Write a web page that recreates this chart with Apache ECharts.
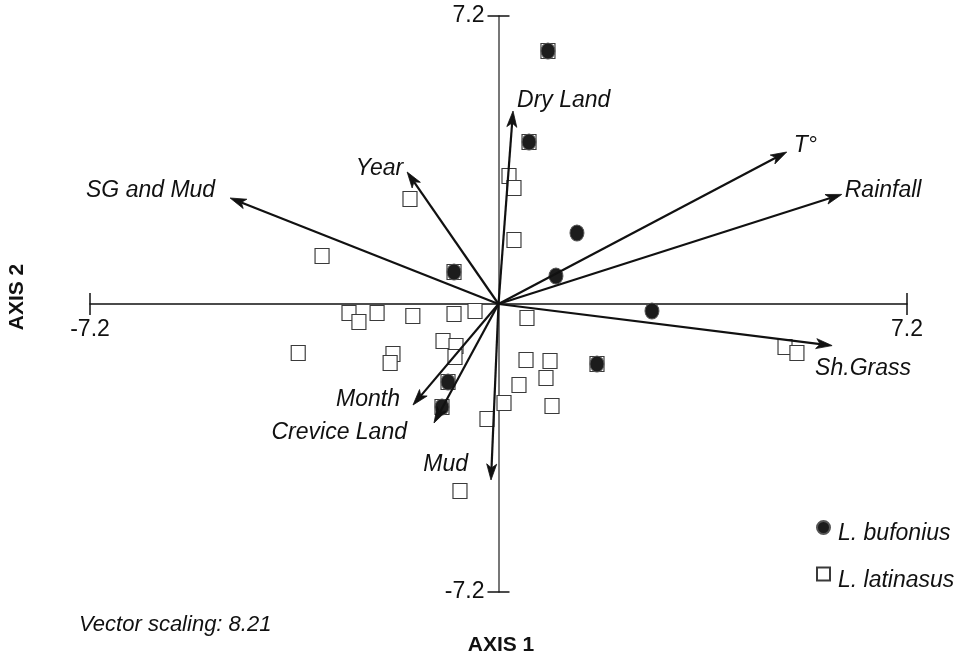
<!DOCTYPE html>
<html>
<head>
<meta charset="utf-8">
<script src="https://cdn.jsdelivr.net/npm/echarts@6/dist/echarts.min.js"></script>
<style>
html,body{margin:0;padding:0;background:#fff;}
#chart{width:961px;height:658px;}
</style>
</head>
<body>
<div id="chart"></div>
<script>
// ---- data ----
const AXIS_LIMIT = 7.2;
const axisTickLabels = ['-7.2', '7.2'];

const vectorNames = ['Dry Land', 'T°', 'Rainfall', 'Sh.Grass', 'SG and Mud', 'Year', 'Month', 'Crevice Land', 'Mud'];
const vectorX = [0.256, 5.08, 6.05, 5.88, -4.73, -1.61, -1.507, -1.137, -0.132];
const vectorY = [4.825, 3.8, 2.74, -1.04, 2.65, 3.3, -2.525, -2.975, -4.4];

const latinasusX = [-3.11, -1.56, 0.185, 0.273, 0.273, -2.635, -2.46, -2.14, -1.51, -0.784, -0.414, 0.502,
  -3.53, -0.978, -0.749, -0.767, -1.86, -1.91, 0.485, 0.908, 0.837, 0.361, 0.097, 0.943, -0.203, -0.679,
  5.05, 5.26, 0.872, 0.538, -0.784, 1.736, -0.89, -0.996];
const latinasusY = [1.2, 2.625, 3.2, 2.9, 1.6, -0.225, -0.45, -0.225, -0.3, -0.25, -0.175, -0.35,
  -1.225, -0.925, -1.05, -1.325, -1.25, -1.475, -1.4, -1.425, -1.85, -2.025, -2.475, -2.55, -2.875, -4.675,
  -1.075, -1.225, 6.325, 4.05, 0.8, -1.5, -1.95, -2.575];

const bufoniusX = [0.872, 0.538, -0.784, 1.736, -0.89, -0.996, 1.383, 1.013, 2.705];
const bufoniusY = [6.325, 4.05, 0.8, -1.5, -1.95, -2.575, 1.775, 0.7, -0.175];

// ---- layout / style (not data) ----
const FONT = '"Liberation Sans", Arial, Helvetica, sans-serif';
const labelLayout = {
  'Dry Land': [4, -10, 'left'],
  'T°': [7, -6, 'left'],
  'Rainfall': [3, -4, 'left'],
  'Sh.Grass': [-17, 23, 'left'],
  'SG and Mud': [-15, -7, 'right'],
  'Year': [-4, -3, 'right'],
  'Month': [-13, -5, 'right'],
  'Crevice Land': [-27, 10, 'right'],
  'Mud': [-23, -15, 'right']
};

const zip = (xs, ys) => xs.map((x, i) => [x, ys[i]]);
const vectorData = vectorNames.map((n, i) => [vectorX[i], vectorY[i], i]);
// [x, y, orientation(0 = horizontal axis end, 1 = vertical axis end), label index]
const tickData = [[-AXIS_LIMIT, 0, 0, 0], [AXIS_LIMIT, 0, 0, 1], [0, -AXIS_LIMIT, 1, 0], [0, AXIS_LIMIT, 1, 1]];

const chart = echarts.init(document.getElementById('chart'), null, {renderer: 'canvas'});

const option = {
  backgroundColor: '#fff',
  animation: false,
  grid: {left: 90, right: 54, top: 16, bottom: 66, containLabel: false},
  xAxis: {
    type: 'value', min: -AXIS_LIMIT, max: AXIS_LIMIT, interval: AXIS_LIMIT,
    splitLine: {show: false},
    axisTick: {show: false},
    axisLabel: {show: false},
    axisLine: {show: true, onZero: true, lineStyle: {color: '#111', width: 1.5}}
  },
  yAxis: {
    type: 'value', min: -AXIS_LIMIT, max: AXIS_LIMIT, interval: AXIS_LIMIT,
    splitLine: {show: false},
    axisTick: {show: false},
    axisLabel: {show: false},
    axisLine: {show: true, onZero: true, lineStyle: {color: '#555', width: 1.6}}
  },
  legend: {
    orient: 'vertical', left: 811, top: 515, itemWidth: 13, itemHeight: 13, itemGap: 21,
    data: [{name: 'L. bufonius', icon: 'circle'}, {name: 'L. latinasus', icon: 'rect'}],
    formatter: '{t|{name}}',
    textStyle: {
      fontSize: 23, fontFamily: FONT, fontStyle: 'italic', color: '#111',
      rich: {t: {fontSize: 23, fontFamily: FONT, fontStyle: 'italic', color: '#111', padding: [13, 0, 0, 3]}}
    },
    selectedMode: false
  },
  graphic: [
    {type: 'text', x: 17, y: 297, rotation: Math.PI / 2,
      style: {text: 'AXIS 2', font: 'bold 21px ' + FONT, fill: '#111', align: 'center', verticalAlign: 'middle'}},
    {type: 'text', x: 501, y: 645,
      style: {text: 'AXIS 1', font: 'bold 21px ' + FONT, fill: '#111', align: 'center', verticalAlign: 'middle'}},
    {type: 'text', x: 79, y: 625,
      style: {text: 'Vector scaling: 8.21', font: 'italic 22px ' + FONT, fill: '#111', align: 'left', verticalAlign: 'middle'}}
  ],
  series: [
    {
      name: 'axisEnds', type: 'custom', silent: true, clip: false, z: 3,
      data: tickData,
      renderItem: function (params, api) {
        const p = api.coord([api.value(0), api.value(1)]);
        const vert = api.value(2) === 1;
        const txt = axisTickLabels[api.value(3)];
        const h = 11;
        return {
          type: 'group',
          children: [
            {type: 'line',
              shape: vert ? {x1: p[0] - h, y1: p[1], x2: p[0] + h, y2: p[1]} : {x1: p[0], y1: p[1] - h, x2: p[0], y2: p[1] + h},
              style: {stroke: '#111', lineWidth: 1.5}},
            {type: 'text', x: vert ? p[0] - 14 : p[0], y: vert ? p[1] : p[1] + 26,
              style: {text: txt, font: '23px ' + FONT, fill: '#111', align: vert ? 'right' : 'center', verticalAlign: 'middle'}}
          ]
        };
      }
    },
    {
      name: 'L. latinasus', type: 'scatter', symbol: 'rect', symbolSize: [14, 15], z: 4,
      itemStyle: {color: '#fff', borderColor: '#3a3a3a', borderWidth: 1.2, opacity: 1},
      data: zip(latinasusX, latinasusY)
    },
    {
      name: 'L. bufonius', type: 'scatter', symbol: 'circle', symbolSize: [14, 16], z: 5,
      itemStyle: {color: '#1c1c1c', borderColor: '#555', borderWidth: 1, opacity: 1},
      data: zip(bufoniusX, bufoniusY)
    },
    {
      name: 'vectors', type: 'custom', silent: true, clip: false, z: 6,
      data: vectorData,
      renderItem: function (params, api) {
        const o = api.coord([0, 0]);
        const t = api.coord([api.value(0), api.value(1)]);
        const name = vectorNames[api.value(2)];
        const dx = t[0] - o[0], dy = t[1] - o[1];
        const len = Math.sqrt(dx * dx + dy * dy);
        const ux = dx / len, uy = dy / len;
        const nx = -uy, ny = ux;
        const L = 16, W = 5, notch = 12;
        const b1 = [t[0] - ux * L + nx * W, t[1] - uy * L + ny * W];
        const b2 = [t[0] - ux * L - nx * W, t[1] - uy * L - ny * W];
        const bn = [t[0] - ux * notch, t[1] - uy * notch];
        const lay = labelLayout[name];
        return {
          type: 'group',
          children: [
            {type: 'line', shape: {x1: o[0], y1: o[1], x2: bn[0], y2: bn[1]},
              style: {stroke: '#111', lineWidth: 2.2}},
            {type: 'polygon', shape: {points: [t, b1, bn, b2]}, style: {fill: '#111', stroke: '#111', lineWidth: 0.8}},
            {type: 'text', x: t[0] + lay[0], y: t[1] + lay[1],
              style: {text: name, font: 'italic 23px ' + FONT, fill: '#111', align: lay[2], verticalAlign: 'middle'}}
          ]
        };
      }
    }
  ]
};
chart.setOption(option);
</script>
</body>
</html>
